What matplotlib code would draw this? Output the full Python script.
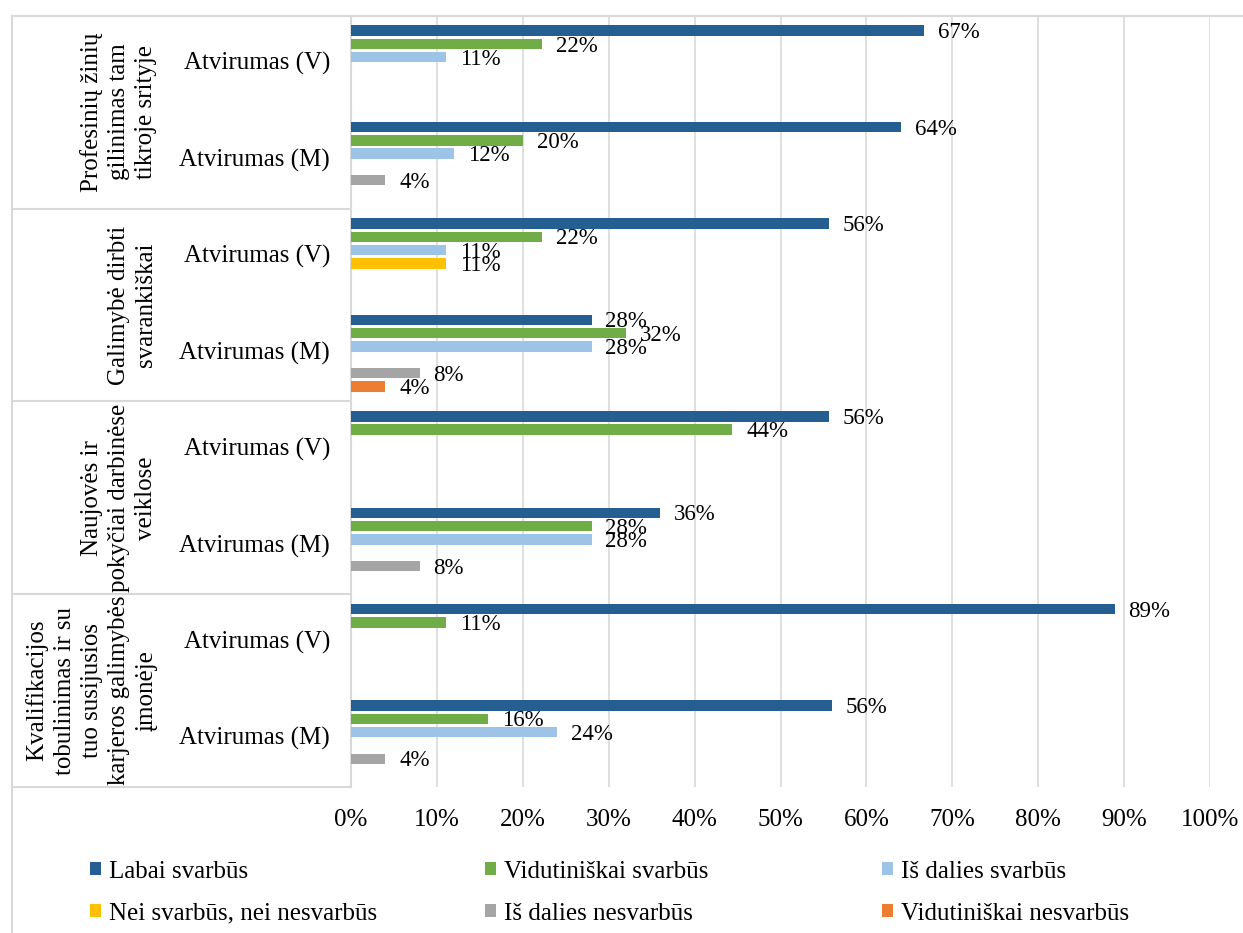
import numpy as np
import matplotlib
matplotlib.use("Agg")
import matplotlib.pyplot as plt
from matplotlib.lines import Line2D
from matplotlib.transforms import blended_transform_factory

plt.rcParams['font.family'] = ['Liberation Serif', 'DejaVu Serif']

# duomenys (eilutės iš viršaus į apačią)
groups = [
    "Profesinių žinių\ngilinimas tam\ntikroje srityje",
    "Galimybė dirbti\nsvarankiškai",
    "Naujovės ir\npokyčiai darbinėse\nveiklose",
    "Kvalifikacijos\ntobulinimas ir su\ntuo susijusios\nkarjeros galimybės\nįmonėje",
]
subcats = ["Atvirumas (V)", "Atvirumas (M)"]

series = ["Labai svarbūs", "Vidutiniškai svarbūs", "Iš dalies svarbūs",
          "Nei svarbūs, nei nesvarbūs", "Iš dalies nesvarbūs", "Vidutiniškai nesvarbūs"]
colors = ["#255E91", "#70AD47", "#9DC3E6", "#FFC000", "#A5A5A5", "#ED7D31"]

labai = [66.7, 64, 55.6, 28, 55.6, 36, 88.9, 56]
vidut = [22.2, 20, 22.2, 32, 44.4, 28, 11.1, 16]
isdal = [11.1, 12, 11.1, 28, 0, 28, 0, 24]
nei = [0, 0, 11.1, 0, 0, 0, 0, 0]
isdal_nes = [0, 4, 0, 8, 0, 8, 0, 4]
vidut_nes = [0, 0, 0, 4, 0, 0, 0, 0]
values = [labai, vidut, isdal, nei, isdal_nes, vidut_nes]

W, H = 1243, 933
fig = plt.figure(figsize=(W / 100, H / 100), dpi=100)
ax = fig.add_axes([351 / W, 1 - 787 / H, 859 / W, (787 - 15.7) / H])

rows = np.arange(len(groups) * len(subcats))
pitch = 0.138
bar_h = 0.108
bars = []
for j, (name, vals, col) in enumerate(zip(series, values, colors)):
    y = rows + (j - 2.5) * pitch
    b = ax.barh(y, vals, height=bar_h, color=col, linewidth=0, label=name, zorder=3)
    bars.append(b)
    for yy, v in zip(y, vals):
        if v > 0:
            ax.annotate(f"{v:.0f}%", (v, yy), xytext=(10, -1.5), textcoords='offset points',
                        ha='left', va='center', fontsize=16.5, zorder=4)

ax.set_xlim(0, 100)
ax.set_ylim(rows[-1] + 0.5, -0.5)
ax.set_xticks(np.arange(0, 101, 10))
ax.set_xticklabels([f"{t}%" for t in range(0, 101, 10)], fontsize=18)
ax.tick_params(axis='x', length=0, pad=16)
ax.set_yticks([])
ax.grid(axis='x', color='#d9d9d9', linewidth=1.2, zorder=0)
for s in ['top', 'right', 'bottom']:
    ax.spines[s].set_visible(False)
ax.spines['left'].set_color('#d9d9d9')
ax.spines['left'].set_linewidth(1.5)

# kairės pusės kategorijų žymės
tr = blended_transform_factory(fig.transFigure, ax.transData)
for i, sub in enumerate(subcats * len(groups)):
    fig.text(330 / W, rows[i], sub, transform=tr, ha='right', va='center', fontsize=18)
for g, name in enumerate(groups):
    fig.text(157 / W, 2 * g + 0.5, name, transform=tr, rotation=90, ha='right', va='center',
             multialignment='center', fontsize=18, linespacing=1.3)
    fig.add_artist(Line2D([12 / W, 351 / W], [2 * g + 1.5, 2 * g + 1.5], transform=tr,
                          color='#d9d9d9', linewidth=1.5))

# rėmelis
fig.add_artist(Line2D([12 / W, 1], [1 - 15.7 / H, 1 - 15.7 / H], color='#d9d9d9', linewidth=1.5))
fig.add_artist(Line2D([12 / W, 12 / W], [0, 1 - 15.7 / H], color='#d9d9d9', linewidth=1.5))

# legenda - trys stulpeliai
for c, x in enumerate([90, 485, 882]):
    hs = [bars[c], bars[c + 3]]
    fig.legend(hs, [series[c], series[c + 3]], loc='center left',
               bbox_to_anchor=(x / W, 1 - 892.5 / H), frameon=False, fontsize=18,
               borderpad=0, borderaxespad=0, handlelength=0.45, handleheight=0.45,
               handletextpad=0.3, labelspacing=0.8)

fig.savefig("out.png", dpi=100)
